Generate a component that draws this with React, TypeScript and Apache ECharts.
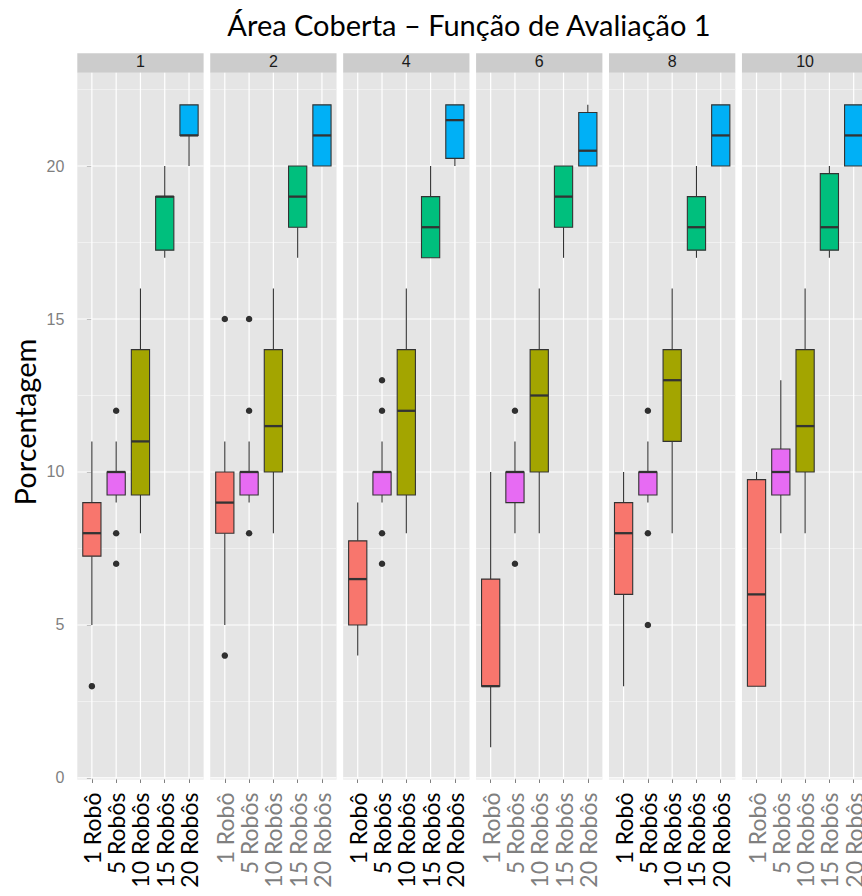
import React, { useEffect, useRef } from 'react';
import * as echarts from 'echarts';

// ---------- data ----------
const categories = ['1 Robô', '5 Robôs', '10 Robôs', '15 Robôs', '20 Robôs'];
const panelLabels = ['1', '2', '4', '6', '8', '10'];

// [min, q1, median, q3, max] per category
const boxPanel1 = [[5, 7.25, 8, 9, 11], [9, 9.25, 10, 10, 11], [8, 9.25, 11, 14, 16], [17, 17.25, 19, 19, 20], [20, 21, 21, 22, 22]];
const boxPanel2 = [[5, 8, 9, 10, 11], [9, 9.25, 10, 10, 11], [8, 10, 11.5, 14, 16], [17, 18, 19, 20, 20], [20, 20, 21, 22, 22]];
const boxPanel4 = [[4, 5, 6.5, 7.75, 9], [9, 9.25, 10, 10, 11], [8, 9.25, 12, 14, 16], [17, 17, 18, 19, 20], [20, 20.25, 21.5, 22, 22]];
const boxPanel6 = [[1, 3, 3, 6.5, 10], [8, 9, 10, 10, 11], [8, 10, 12.5, 14, 16], [17, 18, 19, 20, 20], [20, 20, 20.5, 21.75, 22]];
const boxPanel8 = [[3, 6, 8, 9, 10], [9, 9.25, 10, 10, 11], [8, 11, 13, 14, 16], [17, 17.25, 18, 19, 20], [20, 20, 21, 22, 22]];
const boxPanel10 = [[3, 3, 6, 9.75, 10], [8, 9.25, 10, 10.75, 13], [8, 10, 11.5, 14, 16], [17, 17.25, 18, 19.75, 20], [20, 20, 21, 22, 22]];
const panelBoxes = [boxPanel1, boxPanel2, boxPanel4, boxPanel6, boxPanel8, boxPanel10];

// outliers: [category index, value]
const outPanel1 = [[0, 3], [1, 12], [1, 8], [1, 7]];
const outPanel2 = [[0, 15], [0, 4], [1, 15], [1, 12], [1, 8]];
const outPanel4 = [[1, 13], [1, 12], [1, 8], [1, 7]];
const outPanel6 = [[1, 12], [1, 7]];
const outPanel8 = [[1, 12], [1, 8], [1, 5]];
const outPanel10: number[][] = [];
const panelOutliers = [outPanel1, outPanel2, outPanel4, outPanel6, outPanel8, outPanel10];

const yMajorTicks = [0, 5, 10, 15, 20];
const yMinorTicks = [2.5, 7.5, 12.5, 17.5, 22.5];

// ---------- styles / layout ----------
const fillColors = ['#F8766D', '#E76BF3', '#A3A500', '#00BF7D', '#00B0F6'];
const panelLabelColors = ['#000000', '#7F7F7F', '#000000', '#7F7F7F', '#000000', '#7F7F7F'];
const TITLE = 'Área Coberta – Função de Avaliação 1';
const Y_NAME = 'Porcentagem';

const PANEL_LEFT0 = 77.3;
const PANEL_PITCH = 132.93;
const PANEL_W = 126.3;
const PANEL_TOP = 72.7;
const PANEL_H = 706.8;
const STRIP_TOP = 53.3;
const STRIP_H = 19.4;
const X_MIN = -0.6;
const X_MAX = 4.6;
const Y_MIN = -0.05;
const Y_MAX = 23.05;
const BOX_WIDTH = 0.75;

export default function App() {
  const ref = useRef<HTMLDivElement>(null);

  useEffect(() => {
    const chart = echarts.init(ref.current!, null, { renderer: 'svg' });
    const grids: any[] = [];
    const xAxes: any[] = [];
    const yAxes: any[] = [];
    const series: any[] = [];
    const graphics: any[] = [];
    const catIdx = categories.map((_, k) => k);

    panelLabels.forEach((lab, i) => {
      const left = PANEL_LEFT0 + i * PANEL_PITCH;
      grids.push({
        left, top: PANEL_TOP, width: PANEL_W, height: PANEL_H,
        show: true, backgroundColor: '#E5E5E5', borderWidth: 0,
        containLabel: false, outerBoundsMode: 'none',
      });
      xAxes.push({
        type: 'value', gridIndex: i, min: X_MIN, max: X_MAX,
        axisLine: { show: false }, splitLine: { show: false },
        axisTick: { show: true, customValues: catIdx, length: 5, lineStyle: { color: '#7F7F7F', width: 1 } },
        axisLabel: {
          show: true, customValues: catIdx, rotate: 90, margin: 13,
          fontSize: 23, fontFamily: 'Lato', color: panelLabelColors[i],
          formatter: (v: number) => (Number.isInteger(v) && categories[v] ? categories[v] : ''),
        },
      });
      yAxes.push({
        type: 'value', gridIndex: i, min: Y_MIN, max: Y_MAX,
        axisLine: { show: false }, splitLine: { show: false },
        axisTick: { show: i === 0, customValues: yMajorTicks, length: 5, lineStyle: { color: '#7F7F7F', width: 1 } },
        axisLabel: {
          show: i === 0, customValues: yMajorTicks, margin: 13, align: 'right',
          fontSize: 16, fontFamily: 'Liberation Sans', color: '#7F7F7F',
          formatter: (v: number) => (yMajorTicks.includes(v) ? String(v) : ''),
        },
      });

      // grid lines: [kind, value] kind 0 = minor horizontal, 1 = major horizontal, 2 = major vertical
      const gridData: number[][] = [
        ...yMinorTicks.map((v) => [0, v]),
        ...yMajorTicks.map((v) => [1, v]),
        ...catIdx.map((v) => [2, v]),
      ];
      series.push({
        type: 'custom', xAxisIndex: i, yAxisIndex: i, z: 1, silent: true,
        data: gridData,
        renderItem: (_p: any, api: any) => {
          const kind = api.value(0);
          const v = api.value(1);
          let a, b;
          if (kind === 2) { a = api.coord([v, Y_MIN]); b = api.coord([v, Y_MAX]); }
          else { a = api.coord([X_MIN, v]); b = api.coord([X_MAX, v]); }
          return {
            type: 'line',
            shape: { x1: a[0], y1: a[1], x2: b[0], y2: b[1] },
            style: { stroke: kind === 0 ? '#F2F2F2' : '#FFFFFF', lineWidth: kind === 0 ? 0.9 : 1.2 },
          };
        },
      });

      // boxes
      series.push({
        type: 'custom', xAxisIndex: i, yAxisIndex: i, z: 2, silent: true,
        encode: { x: 0, y: [1, 2, 3, 4, 5] },
        data: panelBoxes[i].map((s, k) => [k, ...s]),
        renderItem: (_p: any, api: any) => {
          const x = api.value(0);
          const lo = api.coord([x, api.value(1)]);
          const q1 = api.coord([x, api.value(2)]);
          const md = api.coord([x, api.value(3)]);
          const q3 = api.coord([x, api.value(4)]);
          const hi = api.coord([x, api.value(5)]);
          const w = api.size([BOX_WIDTH, 0])[0];
          const cx = q1[0];
          const stroke = '#333333';
          return {
            type: 'group',
            children: [
              { type: 'line', shape: { x1: cx, y1: lo[1], x2: cx, y2: q1[1] }, style: { stroke, lineWidth: 1.1 } },
              { type: 'line', shape: { x1: cx, y1: q3[1], x2: cx, y2: hi[1] }, style: { stroke, lineWidth: 1.1 } },
              { type: 'rect', shape: { x: cx - w / 2, y: q3[1], width: w, height: q1[1] - q3[1] }, style: { fill: fillColors[x], stroke, lineWidth: 1.1 } },
              { type: 'line', shape: { x1: cx - w / 2, y1: md[1], x2: cx + w / 2, y2: md[1] }, style: { stroke, lineWidth: 2.3 } },
            ],
          };
        },
      });

      // outliers
      series.push({
        type: 'scatter', xAxisIndex: i, yAxisIndex: i, z: 3, silent: true,
        symbol: 'circle', symbolSize: 6.5,
        itemStyle: { color: '#000000' },
        data: panelOutliers[i],
      });

      // strip
      graphics.push({
        type: 'rect', x: left, y: STRIP_TOP, shape: { x: 0, y: 0, width: PANEL_W, height: STRIP_H },
        style: { fill: '#CCCCCC' }, silent: true,
      });
      graphics.push({
        type: 'text', x: left + PANEL_W / 2, y: STRIP_TOP + 8.5,
        style: { text: lab, fill: '#1A1A1A', fontSize: 16, fontFamily: 'Liberation Sans', textAlign: 'center', textVerticalAlign: 'middle' },
        silent: true,
      });
    });

    graphics.push({
      type: 'text', x: 469, y: 24,
      style: { text: TITLE, fill: '#000000', fontSize: 29, fontFamily: 'Lato', textAlign: 'center', textVerticalAlign: 'middle' },
      silent: true,
    });
    graphics.push({
      type: 'text', x: 24, y: 422, rotation: Math.PI / 2,
      style: { text: Y_NAME, fill: '#000000', fontSize: 29, fontFamily: 'Lato', textAlign: 'center', textVerticalAlign: 'middle' },
      silent: true,
    });

    chart.setOption({
      animation: false,
      backgroundColor: '#FFFFFF',
      grid: grids,
      xAxis: xAxes,
      yAxis: yAxes,
      series,
      graphic: { elements: graphics },
    });
    return () => chart.dispose();
  }, []);

  return <div ref={ref} style={{ position: 'absolute', left: 0, top: 0, width: 862, height: 896 }} />;
}
